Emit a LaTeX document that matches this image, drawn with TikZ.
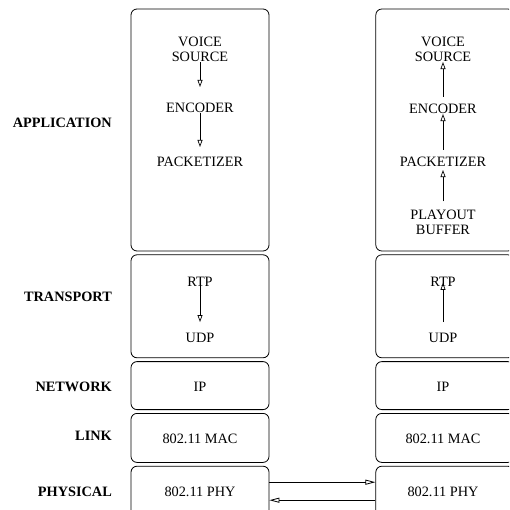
\documentclass[tikz,border=0pt]{standalone}
\usepackage{fontspec}
\setmainfont{Liberation Serif}
\usetikzlibrary{arrows.meta,positioning}
\tikzset{>={Triangle[open,length=7pt,width=5pt]}}

\begin{document}
\begin{tikzpicture}[x=1pt, y=-1pt,
layerbox/.style={rectangle, rounded corners=6pt, draw=black, line width=0.8pt, minimum width=138pt},
blocktext/.style={align=center, inner sep=0pt, font=\fontsize{14.3}{15}\selectfont},
layerlabel/.style={anchor=east, inner sep=0pt, font=\fontsize{14.3}{15}\selectfont\bfseries},
phyarrow/.style={line width=0.8pt, -{Triangle[open,length=10pt,width=5pt]}},
]
\clip (0,0) rectangle (509,510);

%Layer boxes
\node[layerbox, minimum height=242pt](Sender Application) at (200,130) {};
\node[layerbox, minimum height=103pt](Sender Transport)[below=3pt of Sender Application]{};
\node[layerbox, minimum height=48pt](Sender Network)[below=3pt of Sender Transport]{};
\node[layerbox, minimum height=49pt](Sender Link)[below=3pt of Sender Network]{};
\node[layerbox, minimum height=52pt](Sender Physical)[below=3pt of Sender Link]{};
\node[layerbox, minimum height=242pt](Receiver Application)[right=106pt of Sender Application]{};
\node[layerbox, minimum height=103pt](Receiver Transport)[below=3pt of Receiver Application]{};
\node[layerbox, minimum height=48pt](Receiver Network)[below=3pt of Receiver Transport]{};
\node[layerbox, minimum height=49pt](Receiver Link)[below=3pt of Receiver Network]{};
\node[layerbox, minimum height=52pt](Receiver Physical)[below=3pt of Receiver Link]{};

%Layer names
\node[layerlabel](Application) at (112,123) {APPLICATION};
\node[layerlabel](Transport) at (112,297) {TRANSPORT};
\node[layerlabel](Network) at (112,387) {NETWORK};
\node[layerlabel](Link) at (112,436) {LINK};
\node[layerlabel](Physical) at (112,492) {PHYSICAL};

%Sender stack
\node[blocktext](Sender Voice Source) at (200,49.5) {VOICE \\ SOURCE};
\node[blocktext](Sender Encoder) at (200,108) {ENCODER};
\node[blocktext](Sender Packetizer) at (200,162) {PACKETIZER};
\node[blocktext](Sender RTP) at (200,282) {RTP};
\node[blocktext](Sender UDP) at (200,338) {UDP};
\node[blocktext](Sender IP) at (200,387) {IP};
\node[blocktext](Sender MAC) at (200,439) {802.11 MAC};
\node[blocktext](Sender PHY) at (200,492) {802.11 PHY};

%Receiver stack
\node[blocktext](Receiver Voice Source) at (443,49.5) {VOICE \\ SOURCE};
\node[blocktext](Receiver Encoder) at (443,109) {ENCODER};
\node[blocktext](Receiver Packetizer) at (443,162) {PACKETIZER};
\node[blocktext](Receiver Playout Buffer) at (443,222) {PLAYOUT \\ BUFFER};
\node[blocktext](Receiver RTP) at (443,282) {RTP};
\node[blocktext](Receiver UDP) at (443,338) {UDP};
\node[blocktext](Receiver IP) at (443,387) {IP};
\node[blocktext](Receiver MAC) at (443,439) {802.11 MAC};
\node[blocktext](Receiver PHY) at (443,492) {802.11 PHY};

%Lines
\draw[->, line width=0.7pt, shorten >=16pt] (Sender Voice Source) -- (Sender Encoder);
\draw[->, line width=0.7pt, shorten >=10pt] (Sender Encoder) -- (Sender Packetizer);
\draw[->, line width=0.7pt, shorten <=-5pt, shorten >=11pt] (Sender RTP) -- (Sender UDP);
\draw[->, line width=0.7pt, shorten <=7pt] (Receiver Encoder) -- (Receiver Voice Source);
\draw[->, line width=0.7pt, shorten <=7pt] (Receiver Packetizer) -- (Receiver Encoder);
\draw[->, line width=0.7pt, shorten <=8pt, shorten >=3pt] (Receiver Playout Buffer) -- (Receiver Packetizer);
\draw[->, line width=0.7pt, shorten <=11pt, shorten >=-4pt] (Receiver UDP) -- (Receiver RTP);
\draw[phyarrow] ([yshift=10pt]Sender Physical.east) -- ([yshift=10pt]Receiver Physical.west);
\draw[phyarrow] ([yshift=-8pt]Receiver Physical.west) -- ([yshift=-8pt]Sender Physical.east);
\end{tikzpicture}
\end{document}
